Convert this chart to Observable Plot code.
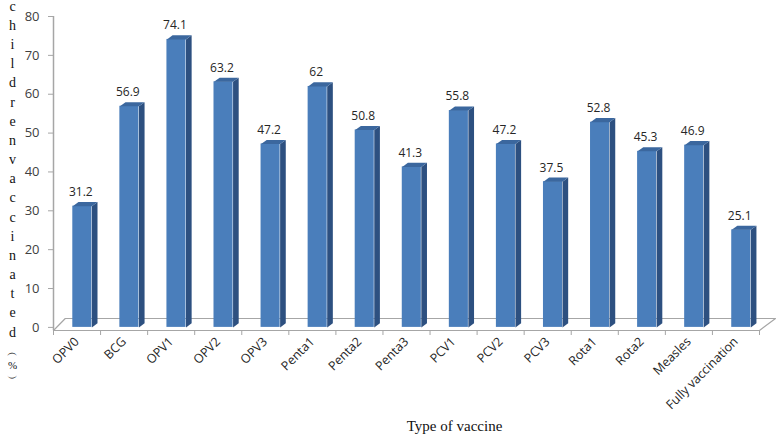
<!DOCTYPE html>
<html><head><meta charset="utf-8">
<script src="https://cdn.jsdelivr.net/npm/d3@7"></script>
<script src="https://cdn.jsdelivr.net/npm/@observablehq/plot@0.6"></script>
<style>body{margin:0;background:#fff}</style>
</head><body><div id="chart"></div>
<script>
const categories = ["OPV0","BCG","OPV1","OPV2","OPV3","Penta1","Penta2","Penta3","PCV1","PCV2","PCV3","Rota1","Rota2","Measles","Fully vaccination"];
const values = [31.2,56.9,74.1,63.2,47.2,62,50.8,41.3,55.8,47.2,37.5,52.8,45.3,46.9,25.1];
const yTicks = [0,10,20,30,40,50,60,70,80];
const yLabel = "children vaccinated (%)";
const xLabel = "Type of vaccine";

const bars = categories.map((c, i) => ({c, i, v: values[i]}));
// 3D bar geometry (offsets within each category, in scale units)
const X0 = 0.41, X1 = 0.815, DX = 0.12, DY = 1.05, FLOOR0 = -0.8, FLOOR1 = 2.29;

const side = bars.flatMap(d => [
  {id: d.i, x: d.i + X1, y: 0},
  {id: d.i, x: d.i + X1 + DX, y: DY},
  {id: d.i, x: d.i + X1 + DX, y: d.v + DY},
  {id: d.i, x: d.i + X1, y: d.v}
]);
const topFace = bars.flatMap(d => [
  {id: d.i, x: d.i + X0, y: d.v},
  {id: d.i, x: d.i + X1, y: d.v},
  {id: d.i, x: d.i + X1 + DX, y: d.v + DY},
  {id: d.i, x: d.i + X0 + DX, y: d.v + DY}
]);
const n = categories.length;
const floor = [
  {x: 0, y: FLOOR0}, {x: n, y: FLOOR0}, {x: n + 0.34, y: FLOOR1}, {x: 0.25, y: FLOOR1}, {x: 0, y: FLOOR0}
];
const letters = yLabel.replace(/[\s()%]/g, "").split("");
const unit = "︵\n%\n︶"; // vertical "(%)" as in the reference
const serif = {fontFamily: "Liberation Serif", fontSize: 14, fill: "#111", textAnchor: "middle", frameAnchor: "top-left", dx: -41};

const chart = Plot.plot({
  width: 778,
  height: 440,
  marginLeft: 53,
  marginRight: 19,
  marginTop: 16,
  marginBottom: 110,
  style: {fontFamily: "Open Sans", fontSize: "12px", background: "#fff"},
  x: {domain: [0, n], axis: null},
  y: {domain: [FLOOR0, 80], axis: null},
  marks: [
    Plot.line(floor, {x: "x", y: "y", stroke: "#a6a6a6", strokeWidth: 1.2}),
    Plot.ruleX([0], {y1: FLOOR0, y2: 80, stroke: "#a6a6a6", strokeWidth: 1.5}),
    Plot.axisY({ticks: yTicks, tickSize: 5, tickPadding: 9, label: null, stroke: "#a6a6a6", fill: "#404040", fontSize: 13}),
    Plot.axisX({ticks: d3.range(n + 1), tickSize: 5, tickFormat: () => "", label: null, stroke: "#a6a6a6"}),
    Plot.axisX({ticks: categories.map((c, i) => i + 0.5), tickFormat: v => categories[Math.floor(v)], tickSize: 0, tickPadding: 9, tickRotate: -45, label: null, fill: "#262626", fontSize: 12.5}),
    Plot.rect(bars, {x1: d => d.i + X0, x2: d => d.i + X1, y1: 0, y2: "v", fill: "#4a7ebb"}),
    Plot.line(side, {x: "x", y: "y", z: "id", fill: "#2d5080", stroke: "none"}),
    Plot.line(topFace, {x: "x", y: "y", z: "id", fill: "#3b679e", stroke: "none"}),
    Plot.text(bars, {x: d => d.i + 0.58, y: "v", dy: -14, text: d => String(d.v), fill: "#262626", fontSize: 12}),
    Plot.text([letters.join("\n")], {...serif, dy: -19.5, lineAnchor: "top", lineHeight: 1.37}),
    Plot.text([unit], {...serif, fontSize: 11, dy: 330, lineHeight: 1.2}),
    Plot.text([xLabel], {frameAnchor: "bottom", dx: 48, dy: 100, fontFamily: "Liberation Serif", fontSize: 15, fill: "#111"})
  ]
});
document.getElementById("chart").appendChild(chart);
</script>
</body></html>
